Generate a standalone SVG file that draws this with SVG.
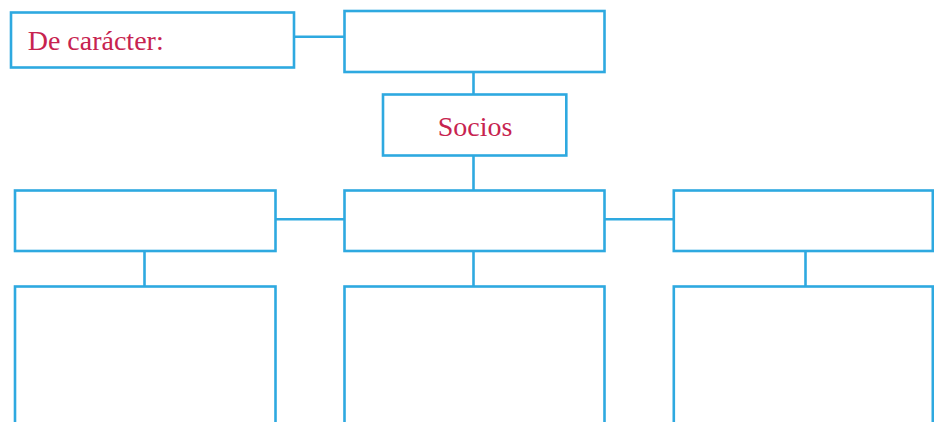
<svg xmlns="http://www.w3.org/2000/svg" width="934" height="422" viewBox="0 0 934 422">
<style>
.box{fill:#fff;stroke:#2EA9E0;stroke-width:2.6}
.ln{fill:none;stroke:#2EA9E0;stroke-width:2.6}
.lbl{font-family:"Liberation Serif","Times New Roman",serif;font-size:28px;fill:#C7234F}
</style>
<rect width="934" height="422" fill="#fff"/>
<g id="connectors">
<line class="ln" x1="294" y1="36.8" x2="344.5" y2="36.8"/>
<line class="ln" x1="473.5" y1="72" x2="473.5" y2="94.5"/>
<line class="ln" x1="473.5" y1="155.5" x2="473.5" y2="190.5"/>
<line class="ln" x1="275.5" y1="219.3" x2="344.5" y2="219.3"/>
<line class="ln" x1="604.5" y1="219.3" x2="673.8" y2="219.3"/>
<line class="ln" x1="144.5" y1="251" x2="144.5" y2="286.5"/>
<line class="ln" x1="473.5" y1="251" x2="473.5" y2="286.5"/>
<line class="ln" x1="805.5" y1="251" x2="805.5" y2="286.5"/>
</g>
<g id="node-caracter">
<rect class="box" x="11" y="12.5" width="283" height="55"/>
<text class="lbl" x="27.7" y="50">De carácter:</text>
</g>
<g id="node-top">
<rect class="box" x="344.5" y="11" width="260" height="61"/>
</g>
<g id="node-socios">
<rect class="box" x="383" y="94.5" width="183.3" height="61"/>
<text class="lbl" x="475" y="136" text-anchor="middle">Socios</text>
</g>
<g id="node-r2-left">
<rect class="box" x="15" y="190.5" width="260.5" height="60.5"/>
</g>
<g id="node-r2-mid">
<rect class="box" x="344.5" y="190.5" width="260" height="60.5"/>
</g>
<g id="node-r2-right">
<rect class="box" x="673.8" y="190.5" width="259" height="60.5"/>
</g>
<g id="node-r3-left">
<rect class="box" x="15" y="286.5" width="260.5" height="150"/>
</g>
<g id="node-r3-mid">
<rect class="box" x="344.5" y="286.5" width="260" height="150"/>
</g>
<g id="node-r3-right">
<rect class="box" x="673.8" y="286.5" width="259" height="150"/>
</g>
</svg>
